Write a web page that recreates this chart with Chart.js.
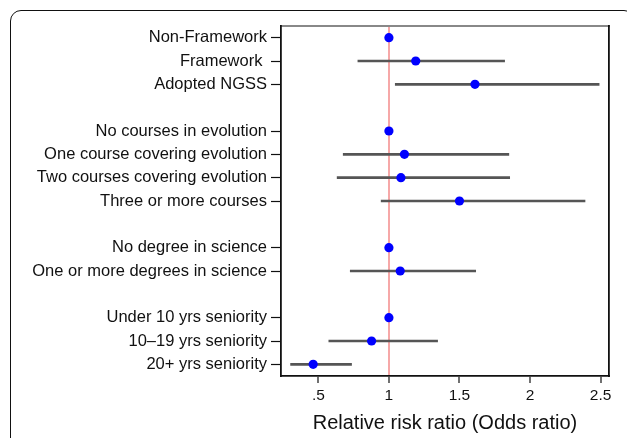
<!DOCTYPE html>
<html><head><meta charset="utf-8">
<script src="https://cdn.jsdelivr.net/npm/chart.js@4/dist/chart.umd.min.js"></script>
<style>
html,body{margin:0;padding:0;background:#fff;width:627px;height:438px;overflow:hidden;}
#card{position:absolute;left:10px;top:10px;width:625px;height:450px;border:1.5px solid #111;border-radius:11px;box-sizing:border-box;}
#wrap{position:absolute;left:0;top:0;width:627px;height:438px;}
</style></head><body>
<div id="card"></div>
<div id="wrap"><canvas id="c" width="627" height="438"></canvas></div>
<script>
const categories = ["Non-Framework","Framework ","Adopted NGSS","",
  "No courses in evolution","One course covering evolution","Two courses covering evolution","Three or more courses","",
  "No degree in science","One or more degrees in science","",
  "Under 10 yrs seniority","10\u201319 yrs seniority","20+ yrs seniority"];
const oddsRatio = [1.00,1.19,1.61,null, 1.00,1.11,1.085,1.50,null, 1.00,1.08,null, 1.00,0.877,0.463];
const ciLow  = [null,0.78,1.045,null, null,0.676,0.633,0.945,null, null,0.726,null, null,0.574,0.303];
const ciHigh = [null,1.82,2.49,null, null,1.85,1.856,2.39,null, null,1.615,null, null,1.345,0.735];
const xTicks = [0.5,1,1.5,2,2.5];
const xTickLabels = [".5","1","1.5","2","2.5"];
const xTitle = "Relative risk ratio (Odds ratio)";

const ciData = ciLow.map((lo,i)=> lo===null ? null : [lo, ciHigh[i]]);
const FONT = "'Liberation Sans', Arial, sans-serif";

new Chart(document.getElementById('c'), {
  type: 'bar',
  data: {
    labels: categories,
    datasets: [
      { type:'line', label:'OR', data: oddsRatio, indexAxis:'y', showLine:false,
        pointRadius:4.6, pointHoverRadius:4.6, pointBackgroundColor:'#0000ff', pointBorderColor:'#0000ff', pointBorderWidth:0,
        borderColor:'#0000ff', xAxisID:'x', yAxisID:'y', order:0 },
      { type:'bar', label:'CI', data: ciData, indexAxis:'y', backgroundColor:'#555555', borderWidth:0,
        barThickness:2, borderSkipped:false, xAxisID:'x', yAxisID:'y', order:1 }
    ]
  },
  options: {
    indexAxis:'y',
    responsive:false, animation:false, devicePixelRatio:1,
    layout:{padding:0},
    plugins:{legend:{display:false}, tooltip:{enabled:false}},
    scales:{
      x:{ type:'linear', position:'bottom', min:0.235, max:2.56,
        afterBuildTicks: s => { s.ticks = xTicks.map(v=>({value:v})); },
        afterFit: s => { s.height = 62; },
        ticks:{ autoSkip:false, maxRotation:0, padding:3, color:'#111', font:{family:FONT,size:15.5},
          callback:(v)=>{ const i = xTicks.indexOf(v); return i>=0 ? xTickLabels[i] : ''; } },
        grid:{ drawOnChartArea:true, drawTicks:true, tickLength:7, tickColor:'#111', tickWidth:1.2,
          color: ctx => (ctx.tick && ctx.tick.value===1) ? '#f6a8a8' : 'rgba(0,0,0,0)', lineWidth:2 },
        border:{ display:true, color:'#111', width:1.8 },
        title:{ display:true, text:xTitle, color:'#111', font:{family:FONT,size:20}, padding:{top:4,bottom:3} }
      },
      x2:{ type:'linear', position:'top', min:0, max:1,
        afterFit: s => { s.height = 26; },
        ticks:{display:false}, grid:{display:false, drawTicks:false},
        border:{ display:true, color:'#888', width:2 } },
      y:{ type:'category', position:'left', offset:true,
        afterFit: s => { s.width = 281; },
        ticks:{ autoSkip:false, padding:4, color:'#111', font:{family:FONT,size:16.5} },
        grid:{ offset:false, drawOnChartArea:false, drawTicks:true, tickLength:10, tickWidth:1.2,
          tickColor: ctx => (categories[ctx.index]==='' ? 'rgba(0,0,0,0)' : '#111') },
        border:{ display:true, color:'#111', width:1.8 } },
      y2:{ type:'linear', position:'right', min:0, max:1,
        afterFit: s => { s.width = 18; },
        ticks:{display:false}, grid:{display:false, drawTicks:false},
        border:{ display:true, color:'#111', width:1.8 } }
    }
  }
});
</script>
</body></html>
